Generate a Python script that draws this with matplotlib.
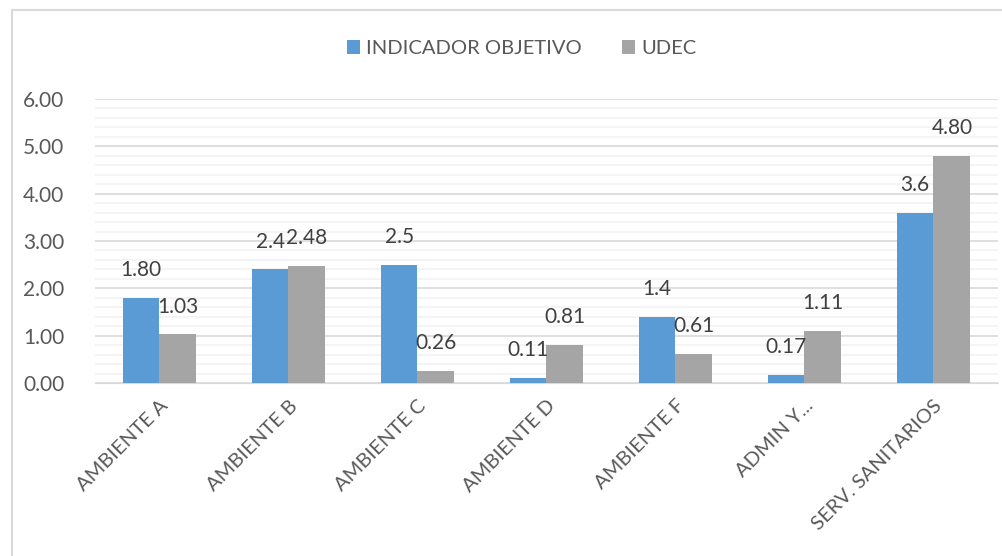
import numpy as np
import matplotlib
matplotlib.use("Agg")
import matplotlib.pyplot as plt
from matplotlib.patches import Rectangle

categorias = ['AMBIENTE A', 'AMBIENTE B', 'AMBIENTE C', 'AMBIENTE D',
              'AMBIENTE F', 'ADMIN Y...', 'SERV. SANITARIOS']
indicador = [1.80, 2.4, 2.5, 0.11, 1.4, 0.17, 3.6]
udec = [1.03, 2.48, 0.26, 0.81, 0.61, 1.11, 4.80]
etiq_indicador = ['1.80', '2.4', '2.5', '0.11', '1.4', '0.17', '3.6']
etiq_udec = ['1.03', '2.48', '0.26', '0.81', '0.61', '1.11', '4.80']

plt.rcParams['font.family'] = ['Lato', 'DejaVu Sans']
gris_texto = '#595959'

fig = plt.figure(figsize=(10.03, 5.56), dpi=100)
ax = fig.add_axes([0.0947, 0.311, 0.9003, 0.511])

x = np.arange(len(categorias))
w = 0.285
b1 = ax.bar(x - w / 2, indicador, w, color='#5B9BD5', label='INDICADOR OBJETIVO', zorder=3)
b2 = ax.bar(x + w / 2, udec, w, color='#A5A5A5', label='UDEC', zorder=3)

# etiquetas de datos
for barras, etiquetas in [(b1, etiq_indicador), (b2, etiq_udec)]:
    for r, t in zip(barras, etiquetas):
        ax.annotate(t, (r.get_x() + r.get_width() / 2, r.get_height()),
                    xytext=(0, 20), textcoords='offset points',
                    ha='center', va='center', fontsize=15, color='#404040')

ax.set_xlim(-0.5, len(categorias) - 0.5)
ax.set_ylim(0, 6)
ax.set_yticks(np.arange(0, 7, 1))
ax.set_yticklabels(['%.2f' % v for v in np.arange(0, 7, 1)])
ax.set_yticks(np.arange(0, 6.01, 0.2), minor=True)
ax.grid(axis='y', which='major', color='#D9D9D9', lw=1.2, zorder=0)
ax.grid(axis='y', which='minor', color='#F2F2F2', lw=1.2, zorder=0)
ax.tick_params(axis='y', which='both', length=0, labelsize=15, labelcolor=gris_texto, pad=22)
ax.set_xticks(x)
ax.set_xticklabels(categorias, rotation=45, ha='right', rotation_mode='anchor',
                   fontsize=14.5, color=gris_texto)
ax.tick_params(axis='x', length=0, pad=10)
for s in ['top', 'right', 'left']:
    ax.spines[s].set_visible(False)
ax.spines['bottom'].set_color('#D9D9D9')

ax.legend(loc='center', bbox_to_anchor=(0.52, 0.913), bbox_transform=fig.transFigure,
          ncol=2, frameon=False, fontsize=14.5, handlelength=0.65, handleheight=0.65,
          handletextpad=0.3, columnspacing=2.0, labelcolor=gris_texto)

# marco del grafico
fig.patches.append(Rectangle((12 / 1003, -0.1), 1.2, 1 - 10 / 556 + 0.1,
                             transform=fig.transFigure, fill=False,
                             edgecolor='#D9D9D9', lw=1.5))

fig.savefig('out.png', dpi=100)
